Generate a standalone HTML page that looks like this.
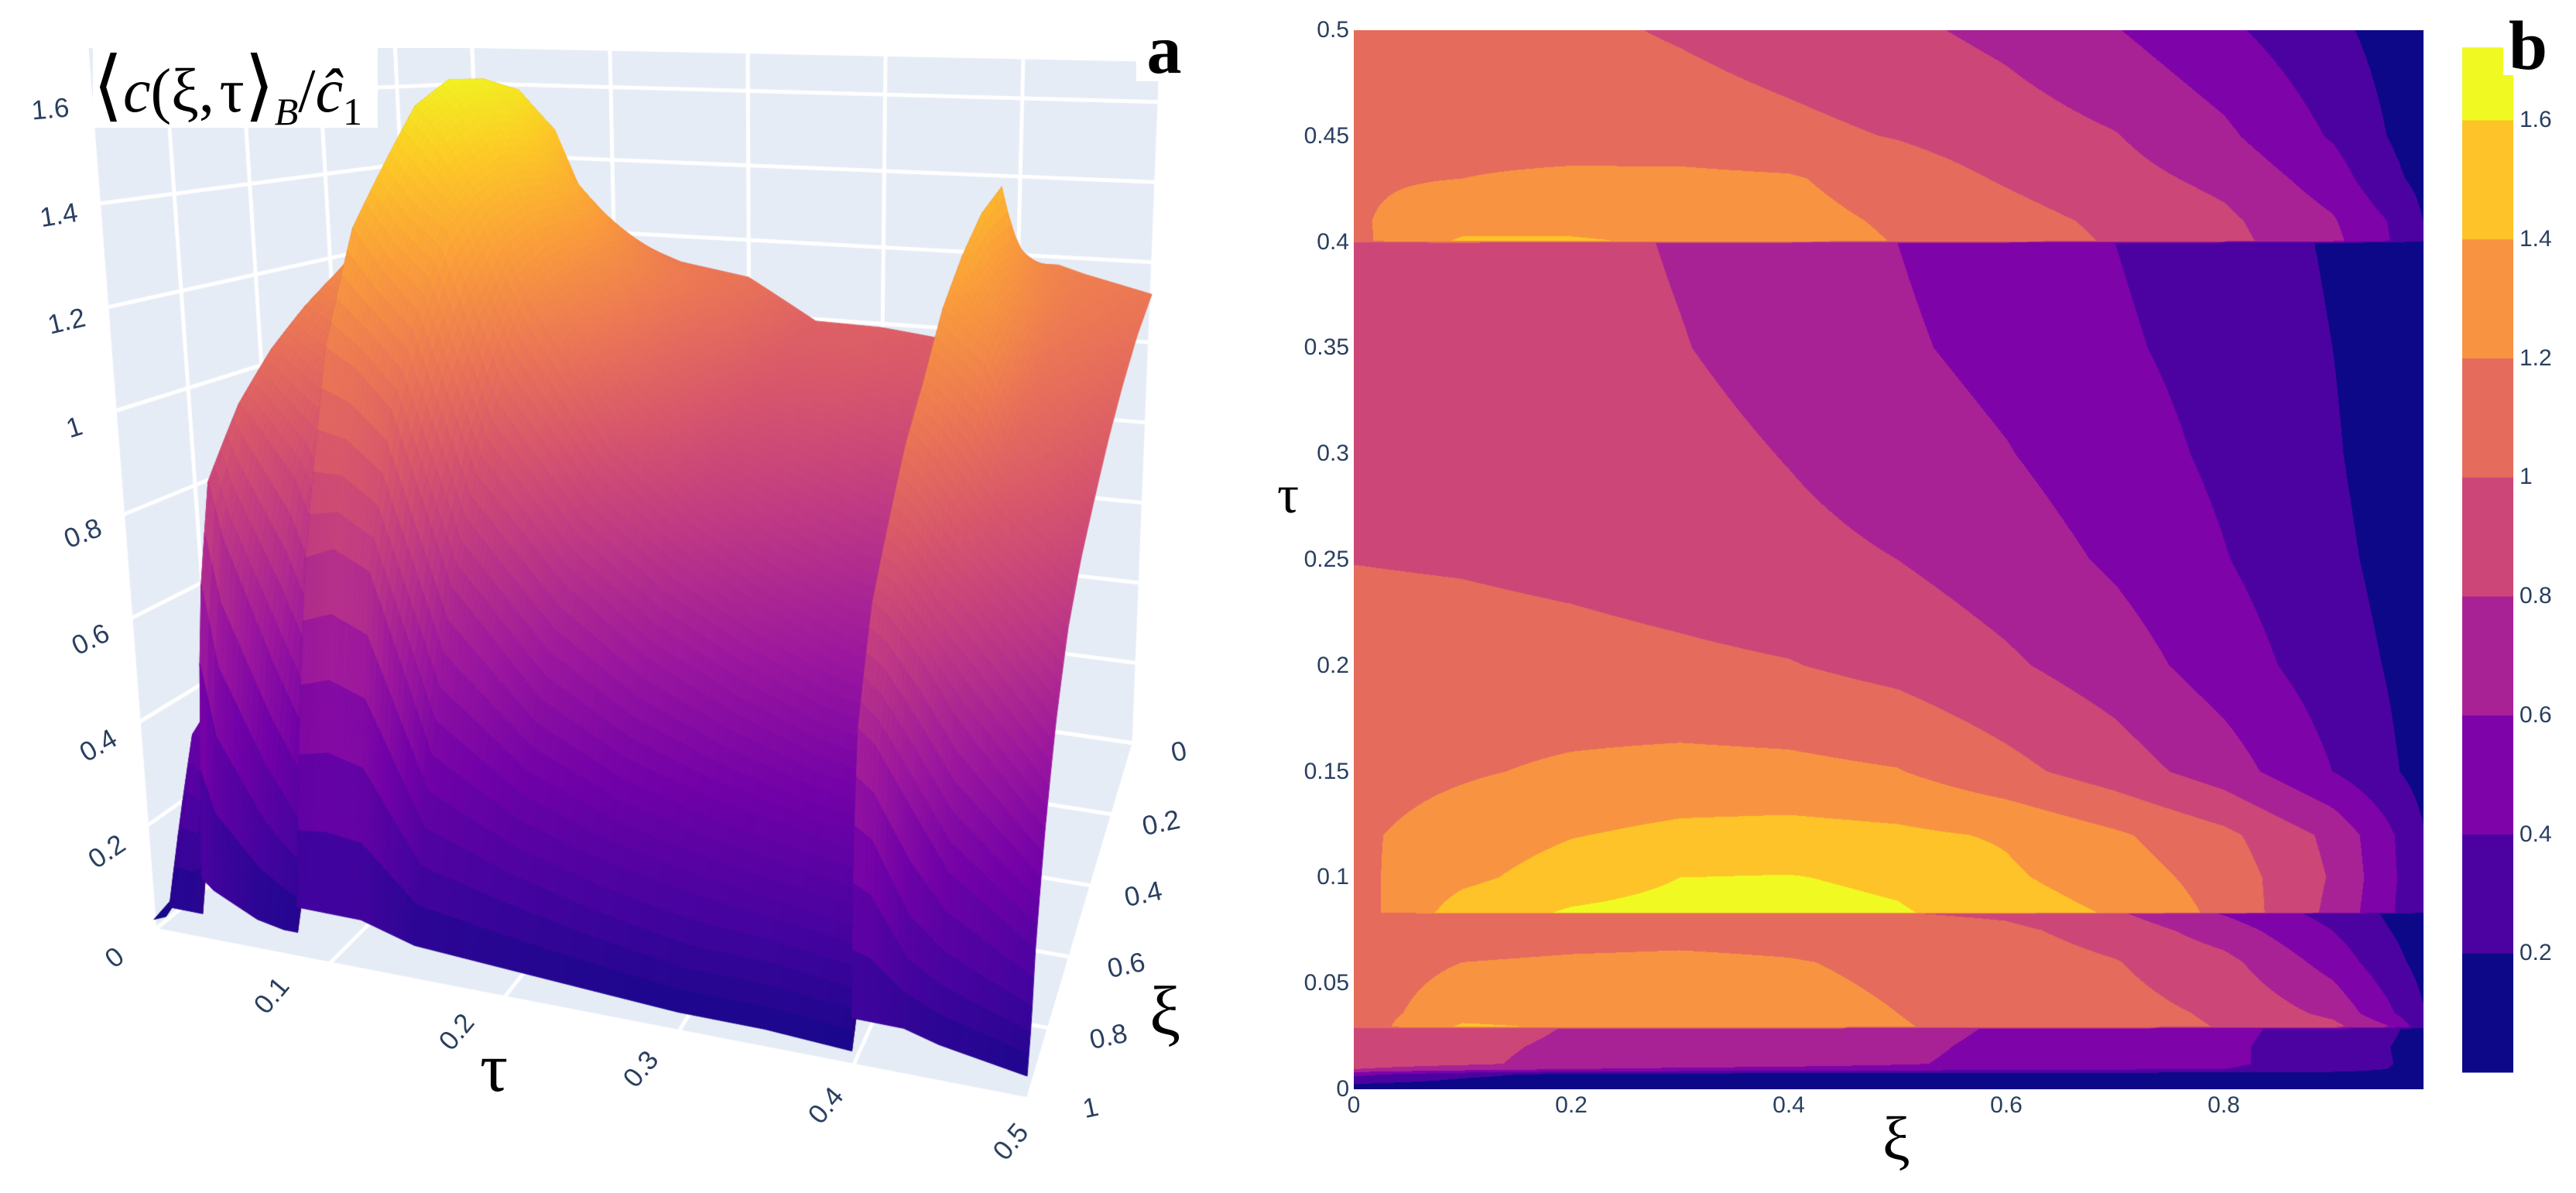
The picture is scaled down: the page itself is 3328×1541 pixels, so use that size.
<!DOCTYPE html>
<html><head><meta charset="utf-8">
<style>
html,body{margin:0;padding:0;background:#fff;}
#root{position:relative;width:3328px;height:1541px;overflow:hidden;background:#fff;font-family:"Liberation Sans",sans-serif;}
.abs{position:absolute;}
.tick{position:absolute;color:#2a3f5f;font-size:30px;white-space:nowrap;line-height:1;}
.t3d{font-size:35px;}
.serif{font-family:"Liberation Serif","DejaVu Serif",serif;}
</style></head>
<body>
<div id="root">
  <canvas id="surf" class="abs" width="1700" height="1541" style="left:0;top:0"></canvas>
  <div class="abs serif" style="left:120px;top:55px;width:368px;height:110px;background:#fff;font-size:80px;line-height:110px;white-space:nowrap;color:#000"><span style="font-size:100px;font-family:'DejaVu Serif',serif">⟨</span><i>c</i>(ξ,&#8202;τ<span style="font-size:100px;font-family:'DejaVu Serif',serif">⟩</span><sub style="font-size:50px;font-style:italic">B</sub>/<i>ĉ</i><sub style="font-size:50px">1</sub></div>
  <div class="abs serif" style="left:1468px;top:25px;width:72px;height:80px;background:#fff;font-size:90px;font-weight:bold;line-height:80px;text-align:center">a</div>
  <div class="abs serif" style="left:620px;top:1335px;font-size:90px;line-height:1">τ</div>
  <div class="abs serif" style="left:1485px;top:1262px;font-size:90px;line-height:1">ξ</div>

  <canvas id="cont" class="abs" width="1382" height="1368" style="left:1749px;top:39px"></canvas>
  <svg id="cbar" class="abs" width="80" height="1400" style="left:3170px;top:0"></svg>
  <div class="abs serif" style="left:3234px;top:20px;width:64px;height:77px;background:#fff;font-size:90px;font-weight:bold;line-height:80px;text-align:center">b</div>
  <div class="abs serif" style="left:1650px;top:605px;font-size:70px;line-height:1">τ</div>
  <div class="abs serif" style="left:2432px;top:1432px;font-size:80px;line-height:1">ξ</div>
</div>
<script>
const XI = [0,0.1,0.2,0.3,0.4,0.5,0.6,0.7,0.8,0.9,0.95,1.0];
const TAU = [0,0.007,0.0095,0.012,0.02,0.0285,0.0295,0.036,0.06,0.075,0.0828,0.0835,0.1,0.12,0.15,0.2,0.25,0.3,0.35,0.3995,0.4005,0.41,0.43,0.45,0.5];
const C_ROWS = [
 [0.06,0.06,0.06,0.06,0.05,0.05,0.05,0.05,0.04,0.04,0.03,0.02],
 [0.45,0.25,0.15,0.12,0.11,0.10,0.10,0.09,0.08,0.07,0.05,0.03],
 [0.80,0.70,0.60,0.56,0.53,0.50,0.46,0.43,0.40,0.34,0.20,0.05],
 [0.88,0.83,0.75,0.71,0.68,0.62,0.55,0.49,0.42,0.34,0.22,0.05],
 [0.90,0.84,0.77,0.72,0.70,0.64,0.56,0.50,0.43,0.31,0.21,0.05],
 [0.92,0.87,0.79,0.75,0.73,0.66,0.58,0.52,0.44,0.33,0.25,0.05],
 [1.08,1.43,1.38,1.33,1.28,1.21,1.15,1.08,0.99,0.86,0.62,0.12],
 [1.10,1.32,1.30,1.28,1.25,1.20,1.14,1.07,0.97,0.75,0.45,0.10],
 [1.10,1.20,1.22,1.23,1.21,1.17,1.10,1.01,0.86,0.52,0.28,0.06],
 [1.08,1.12,1.14,1.15,1.14,1.10,1.04,0.92,0.70,0.40,0.21,0.05],
 [1.08,1.06,1.05,1.04,1.03,1.01,0.97,0.83,0.59,0.33,0.18,0.05],
 [1.10,1.50,1.62,1.66,1.67,1.62,1.50,1.38,1.15,0.75,0.45,0.10],
 [1.15,1.35,1.50,1.60,1.61,1.56,1.43,1.30,1.12,0.78,0.47,0.10],
 [1.17,1.28,1.39,1.45,1.47,1.44,1.38,1.23,1.05,0.75,0.45,0.10],
 [1.13,1.18,1.23,1.26,1.25,1.21,1.06,0.90,0.70,0.40,0.24,0.07],
 [1.10,1.09,1.07,1.04,1.01,0.94,0.83,0.70,0.50,0.30,0.19,0.06],
 [0.995,0.98,0.95,0.91,0.86,0.80,0.70,0.57,0.41,0.25,0.15,0.05],
 [0.99,0.97,0.93,0.87,0.79,0.70,0.61,0.49,0.36,0.22,0.12,0.04],
 [0.97,0.94,0.89,0.81,0.72,0.63,0.54,0.43,0.33,0.20,0.12,0.04],
 [0.95,0.92,0.87,0.78,0.70,0.60,0.50,0.40,0.30,0.18,0.10,0.03],
 [1.15,1.43,1.42,1.37,1.30,1.19,1.10,0.98,0.86,0.65,0.42,0.10],
 [1.18,1.30,1.33,1.32,1.27,1.17,1.07,0.96,0.84,0.62,0.40,0.10],
 [1.18,1.20,1.23,1.24,1.22,1.10,0.98,0.87,0.75,0.50,0.25,0.10],
 [1.16,1.15,1.13,1.10,1.05,0.99,0.90,0.81,0.64,0.38,0.20,0.08],
 [1.12,1.09,1.04,0.98,0.91,0.84,0.75,0.61,0.44,0.25,0.13,0.05]
];
const LEVELS = [0.2,0.4,0.6,0.8,1.0,1.2,1.4,1.6];
const CB_TICKS = ["0.2","0.4","0.6","0.8","1","1.2","1.4","1.6"];
const X_TICKS = [0,0.2,0.4,0.6,0.8];
const X_TICK_LABELS = ["0","0.2","0.4","0.6","0.8"];
const Y_TICKS = [0,0.05,0.1,0.15,0.2,0.25,0.3,0.35,0.4,0.45,0.5];
const Y_TICK_LABELS = ["0","0.05","0.1","0.15","0.2","0.25","0.3","0.35","0.4","0.45","0.5"];
const Z_TICKS_3D = [0,0.2,0.4,0.6,0.8,1,1.2,1.4,1.6];
const Z_TICK_LABELS_3D = ["0","0.2","0.4","0.6","0.8","1","1.2","1.4","1.6"];
const T_TICKS_3D = [0.1,0.2,0.3,0.4,0.5];
const T_TICK_LABELS_3D = ["0.1","0.2","0.3","0.4","0.5"];
const XI_TICKS_3D = [0,0.2,0.4,0.6,0.8,1];
const XI_TICK_LABELS_3D = ["0","0.2","0.4","0.6","0.8","1"];

const BAND_COLORS = ["#0d0887","#4c02a1","#7e03a8","#a82296","#cc4778","#e56b5d","#f89441","#fdc328","#f0f921"];
const PLASMA = ["#0d0887","#46039f","#7201a8","#9c179e","#bd3786","#d8576b","#ed7953","#fb9f3a","#fdca26","#f0f921"];

function hex(h){return [parseInt(h.slice(1,3),16),parseInt(h.slice(3,5),16),parseInt(h.slice(5,7),16)];}
const BAND_RGB = BAND_COLORS.map(hex), PL_RGB = PLASMA.map(hex);
function plasma(f){f=Math.max(0,Math.min(1,f));const s=f*(PL_RGB.length-1);const i=Math.min(PL_RGB.length-2,Math.floor(s));const w=s-i;
 return PL_RGB[i].map((c,k)=>c+(PL_RGB[i+1][k]-c)*w);}
function rowAt(t){let i=0;while(i<TAU.length-2&&t>TAU[i+1])i++;const w=Math.max(0,Math.min(1,(t-TAU[i])/(TAU[i+1]-TAU[i])));
 return C_ROWS[i].map((v,k)=>v+(C_ROWS[i+1][k]-v)*w);}
function colAt(row,x){let j=0;while(j<XI.length-2&&x>XI[j+1])j++;const w=Math.max(0,Math.min(1,(x-XI[j])/(XI[j+1]-XI[j])));return row[j]+(row[j+1]-row[j])*w;}
function band(v){let b=0;while(b<LEVELS.length&&v>=LEVELS[b])b++;return b;}

const root=document.getElementById('root');
function addTick(txt,x,y,rot,name,anchor,cls){
 const d=document.createElement('div');
 d.className='tick'+(cls?' '+cls:'');
 d.textContent=txt;
 
 
 const tx = anchor==='right' ? '-100%' : (anchor==='left' ? '0' : '-50%');
 d.style.left=x+'px';d.style.top=y+'px';
 d.style.transform='translate('+tx+',-50%) rotate('+(rot||0)+'deg)';
 root.appendChild(d);
}

// ---------------- contour panel ----------------
const CX0=1749, CY0=39, CW=1382, CH=1368;
const xs = v => CX0 + v*1405;
const ys = t => CY0 + CH - t*(CH/0.5);
(function(){
 const cv=document.getElementById('cont');const ctx=cv.getContext('2d');
 const img=ctx.createImageData(CW,CH);
 const colIdx=[];for(let px=0;px<CW;px++){colIdx.push((px+0.5)/1405);}
 for(let py=0;py<CH;py++){
  const t=(CH-py-0.5)/(CH/0.5);const row=rowAt(t);
  for(let px=0;px<CW;px++){
   const c=BAND_RGB[band(colAt(row,colIdx[px]))];const o=(py*CW+px)*4;
   img.data[o]=c[0];img.data[o+1]=c[1];img.data[o+2]=c[2];img.data[o+3]=255;
  }
 }
 ctx.putImageData(img,0,0);
 X_TICKS.forEach((v,i)=>addTick(X_TICK_LABELS[i],xs(v),1428,0,'x-tick-label','center'));
 Y_TICKS.forEach((t,i)=>addTick(Y_TICK_LABELS[i],1743,ys(t),0,'y-tick-label','right'));
})();

// ---------------- colorbar ----------------
(function(){
 const svg=document.getElementById('cbar');const NS='http://www.w3.org/2000/svg';
 const cb0=1385, per=(1385-155)/1.6, topV=1.722;
 const cy=v=>cb0-v*per;
 const edges=[0].concat(LEVELS).concat([topV]);
 for(let i=0;i<edges.length-1;i++){
  const r=document.createElementNS(NS,'rect');
  r.setAttribute('x',11);r.setAttribute('width',66);
  r.setAttribute('y',cy(edges[i+1]));r.setAttribute('height',cy(edges[i])-cy(edges[i+1])+0.5);
  r.setAttribute('fill',BAND_COLORS[i]);
  
  
  svg.appendChild(r);
 }
 LEVELS.forEach((v,i)=>addTick(CB_TICKS[i],3255,cy(v),0,'colorbar-tick-label','left'));
})();

// ---------------- 3D surface panel ----------------
const CORN = { b00:[640,840], b10:[1465,960], b01:[200,1201], b11:[1328,1420],
               t00:[610,62],  t10:[1500,80],  t01:[112,62],   t11:[1294,400] };
const ZMAX=1.7;
function proj(t,x,z){
 const u=t/0.5, v=x, w=z/ZMAX;
 const bl=(a,b,c,d)=>[0,1].map(k=>a[k]*(1-u)*(1-v)+b[k]*u*(1-v)+c[k]*(1-u)*v+d[k]*u*v);
 const B=bl(CORN.b00,CORN.b10,CORN.b01,CORN.b11), T=bl(CORN.t00,CORN.t10,CORN.t01,CORN.t11);
 return [B[0]+(T[0]-B[0])*w, B[1]+(T[1]-B[1])*w];
}
(function(){
 const cv=document.getElementById('surf');const ctx=cv.getContext('2d');
 const WALL='#e5ecf6';
 function poly(pts,fill){ctx.beginPath();pts.forEach((p,i)=>i?ctx.lineTo(p[0],p[1]):ctx.moveTo(p[0],p[1]));ctx.closePath();ctx.fillStyle=fill;ctx.fill();}
 function line(a,b){ctx.beginPath();ctx.moveTo(a[0],a[1]);ctx.lineTo(b[0],b[1]);ctx.strokeStyle='#ffffff';ctx.lineWidth=5;ctx.stroke();}
 poly([proj(0,1,0),proj(0,0,0),proj(0,0,ZMAX),proj(0,1,ZMAX)],WALL);
 poly([proj(0,0,0),proj(0.5,0,0),proj(0.5,0,ZMAX),proj(0,0,ZMAX)],WALL);
 poly([proj(0,0,0),proj(0.5,0,0),proj(0.5,1,0),proj(0,1,0)],WALL);
 Z_TICKS_3D.forEach(z=>{line(proj(0,1,z),proj(0,0,z));line(proj(0,0,z),proj(0.5,0,z));});
 XI_TICKS_3D.forEach(x=>{line(proj(0,x,0),proj(0,x,ZMAX));line(proj(0,x,0),proj(0.5,x,0));});
 T_TICKS_3D.concat([0]).forEach(t=>{line(proj(t,0,0),proj(t,0,ZMAX));line(proj(t,0,0),proj(t,1,0));});
 // surface mesh
 let ts=[];for(let t=0;t<=0.5+1e-9;t+=0.0025)ts.push(+t.toFixed(5));
 ts=ts.concat(TAU).sort((a,b)=>a-b).filter((v,i,a)=>i===0||v-a[i-1]>1e-6);
 const xsS=[];for(let x=0;x<=1+1e-9;x+=0.02)xsS.push(+x.toFixed(4));
 const Z=ts.map(t=>{const r=rowAt(t);return xsS.map(x=>colAt(r,x));});
 for(let j=0;j<xsS.length-1;j++){
  for(let i=0;i<ts.length-1;i++){
   const z00=Z[i][j],z10=Z[i+1][j],z01=Z[i][j+1],z11=Z[i+1][j+1];
   const za=(z00+z10+z01+z11)/4;
   const du=(ts[i+1]-ts[i])/0.5;
   const gu=((z10+z11)-(z00+z01))/2/ZMAX/du;
   // mild darkening only on steep rising faces (pulse cliffs)
   const f=1-Math.min(0.12,Math.max(0,gu)*0.02);
   const c=plasma(za/ZMAX).map(v=>Math.min(255,Math.round(v*f)));
   const col='rgb('+c.join(',')+')';
   const p=[proj(ts[i],xsS[j],z00),proj(ts[i+1],xsS[j],z10),proj(ts[i+1],xsS[j+1],z11),proj(ts[i],xsS[j+1],z01)];
   ctx.beginPath();p.forEach((q,k)=>k?ctx.lineTo(q[0],q[1]):ctx.moveTo(q[0],q[1]));ctx.closePath();
   ctx.fillStyle=col;ctx.fill();ctx.strokeStyle=col;ctx.lineWidth=1;ctx.stroke();
  }
 }
 Z_TICKS_3D.forEach((z,i)=>{const p=proj(0,1,z);const w=z/1.6;
  addTick(Z_TICK_LABELS_3D[i],p[0]-52,p[1]+36-24*w,-38+33*w,'z-tick-label','center','t3d');});
 T_TICKS_3D.forEach((t,i)=>{const u=t/0.5;const p=proj(t,1,0);
  addTick(T_TICK_LABELS_3D[i],p[0]-88+66*u,p[1]+38+17*u,-50,'tau-tick-label','center','t3d');});
 XI_TICKS_3D.forEach((x,i)=>{const p=proj(0.5,x,0);
  addTick(XI_TICK_LABELS_3D[i],p[0]+58+23*x,p[1]+11,-12,'xi-tick-label','center','t3d');});
})();
</script>
</body></html>
